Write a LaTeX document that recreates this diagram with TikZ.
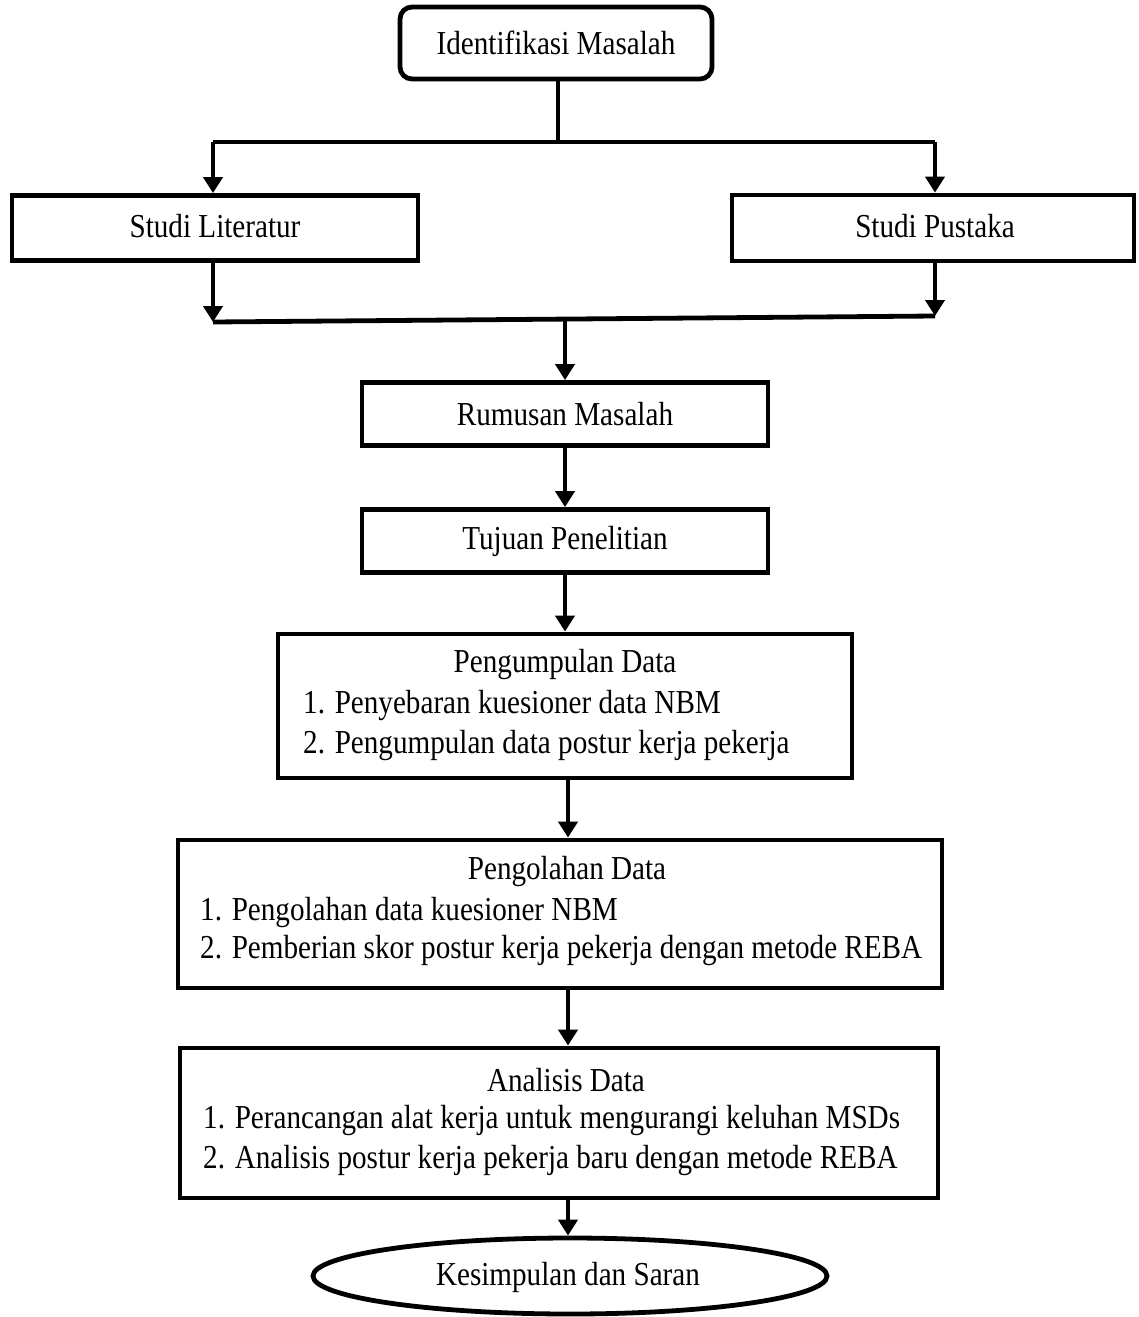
\documentclass[tikz,border=0pt]{standalone}
\usepackage{fontspec}
\setmainfont{Liberation Serif}[FakeStretch=0.87]
\usetikzlibrary{arrows.meta,shapes.geometric}
\begin{document}
\begin{tikzpicture}[x=1pt,y=-1pt,
  font=\fontsize{33.5}{40}\selectfont,
  box/.style={draw, line width=4.8pt, inner sep=0pt},
  rbox/.style={box, rounded corners=12pt},
  txt/.style={inner sep=0pt, anchor=center},
  ltxt/.style={inner sep=0pt, anchor=west},
  ln/.style={line width=4.8pt},
  arr/.style={line width=4.8pt, -{Triangle[width=19pt,length=16pt]}}]
\useasboundingbox (0,0) rectangle (1138,1317);

% boxes
\node[rbox, minimum width=312pt, minimum height=72pt] (idm) at (556,43) {};
\node[txt] (idmt) at (556,43) {Identifikasi Masalah};

\node[box, minimum width=406pt, minimum height=65pt] (sl) at (215,228) {};
\node[txt] (slt) at (215,226) {Studi Literatur};

\node[box, minimum width=402pt, minimum height=66pt] (sp) at (933,228) {};
\node[txt] (spt) at (935,226) {Studi Pustaka};

\node[box, minimum width=406pt, minimum height=63pt] (rm) at (565,414) {};
\node[txt] (rmt) at (565,414) {Rumusan Masalah};

\node[box, minimum width=406pt, minimum height=63pt] (tp) at (565,541) {};
\node[txt] (tpt) at (565,541) {Tujuan Penelitian};

\node[box, minimum width=574pt, minimum height=144pt] (pd) at (565,706) {};
\node[txt] (pdt) at (565,664) {Pengumpulan Data};
\node[ltxt] (pd1) at (303,705) {1. Penyebaran kuesioner data NBM};
\node[ltxt] (pd2) at (303,745) {2. Pengumpulan data postur kerja pekerja};

\node[box, minimum width=764pt, minimum height=148pt] (od) at (560,914) {};
\node[txt] (odt) at (567,871) {Pengolahan Data};
\node[ltxt] (od1) at (200,912) {1. Pengolahan data kuesioner NBM};
\node[ltxt] (od2) at (200,950) {2. Pemberian skor postur kerja pekerja dengan metode REBA};

\node[box, minimum width=758pt, minimum height=150pt] (ad) at (559,1123) {};
\node[txt] (adt) at (566,1080) {Analisis Data};
\node[ltxt] (ad1) at (203,1120) {1. Perancangan alat kerja untuk mengurangi keluhan MSDs};
\node[ltxt] (ad2) at (203,1160) {2. Analisis postur kerja pekerja baru dengan metode REBA};

\node[draw, ellipse, line width=4.8pt, inner sep=0pt, minimum width=514pt, minimum height=76pt] (ks) at (570,1276) {};
\node[txt] (kst) at (568,1277) {Kesimpulan dan Saran};

% connectors
\coordinate (s1) at (558,142);
\coordinate (bl) at (213,142);
\coordinate (br) at (935,142);
\coordinate (ml) at (213,322);
\coordinate (mr) at (935,316);
\coordinate (mm) at (565,319);

\draw[ln] (idm.south -| s1) -- (s1);
\draw[ln] (bl) -- (br);
\draw[arr] (bl) -- (bl |- sl.north);
\draw[arr] (br) -- (br |- sp.north);
\draw[arr] (sl.south -| ml) -- (ml);
\draw[arr] (sp.south -| mr) -- (mr);
\draw[ln] (ml) -- (mr);
\draw[arr] (mm) -- (rm.north -| mm);
\draw[arr] (rm.south) -- (tp.north);
\draw[arr] (tp.south) -- (pd.north -| tp.south);
\coordinate (c2) at (568,0);
\draw[arr] (pd.south -| c2) -- (od.north -| c2);
\draw[arr] (od.south -| c2) -- (ad.north -| c2);
\draw[arr] (ad.south -| c2) -- (ks.north -| c2);
\end{tikzpicture}
\end{document}
